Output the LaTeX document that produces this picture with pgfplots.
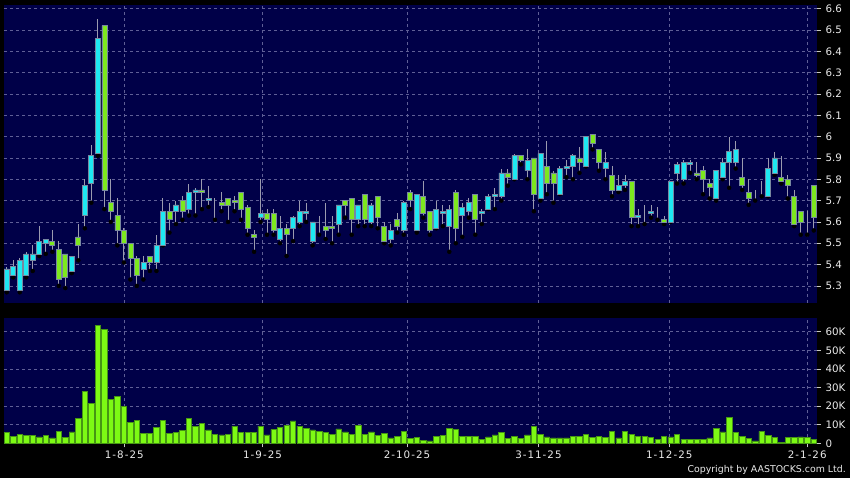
\documentclass[border=0pt]{standalone}
\usepackage{fontspec}
\setmainfont{DejaVu Sans}
\usepackage{pgfplots}
\usepackage{pgfplotstable}
\pgfplotsset{compat=1.18}

\definecolor{bgnavy}{RGB}{0,0,72}
\definecolor{upcol}{RGB}{30,232,242}
\definecolor{dncol}{RGB}{125,232,30}
\definecolor{edgecol}{RGB}{120,135,160}
\definecolor{wickcol}{RGB}{155,155,175}
\definecolor{volcol}{RGB}{125,250,20}
\definecolor{voledge}{RGB}{70,150,20}
\definecolor{gridcol}{RGB}{95,95,150}
\definecolor{txt}{RGB}{235,235,235}
\definecolor{tickcol}{RGB}{200,200,200}

\pgfplotstableread{
i o h l c v
0 5.28 5.39 5.27 5.38 5.9
1 5.35 5.42 5.34 5.39 3.6
2 5.28 5.43 5.27 5.42 5.0
3 5.35 5.46 5.34 5.45 4.1
4 5.42 5.49 5.37 5.45 4.1
5 5.45 5.58 5.44 5.51 3.4
6 5.50 5.52 5.45 5.52 4.1
7 5.51 5.56 5.46 5.49 2.9
8 5.47 5.51 5.30 5.33 6.4
9 5.45 5.45 5.29 5.34 3.0
10 5.37 5.44 5.36 5.44 6.1
11 5.53 5.59 5.42 5.49 13.4
12 5.63 5.80 5.57 5.77 27.9
13 5.78 5.96 5.69 5.91 21.6
14 5.92 6.55 5.91 6.46 63.5
15 6.52 6.52 5.66 5.75 61.4
16 5.69 5.80 5.60 5.65 23.8
17 5.63 5.71 5.49 5.56 25.4
18 5.56 5.57 5.41 5.50 19.9
19 5.50 5.50 5.33 5.43 11.3
20 5.43 5.44 5.30 5.35 12.3
21 5.38 5.44 5.33 5.41 5.4
22 5.44 5.44 5.37 5.41 5.4
23 5.41 5.54 5.37 5.49 8.6
24 5.49 5.71 5.49 5.65 12.3
25 5.65 5.69 5.55 5.61 5.4
26 5.65 5.70 5.59 5.68 5.7
27 5.70 5.72 5.61 5.65 7.0
28 5.66 5.78 5.63 5.74 13.6
29 5.74 5.76 5.63 5.75 8.9
30 5.75 5.80 5.66 5.74 10.7
31 5.70 5.77 5.67 5.71 7.2
32 5.67 5.71 5.61 5.67 5.0
33 5.69 5.74 5.65 5.68 4.5
34 5.71 5.71 5.60 5.68 4.8
35 5.70 5.72 5.65 5.69 9.3
36 5.74 5.74 5.61 5.66 5.7
37 5.67 5.68 5.54 5.57 5.7
38 5.54 5.56 5.46 5.53 5.7
39 5.62 5.80 5.60 5.64 9.3
40 5.64 5.66 5.54 5.61 4.5
41 5.64 5.66 5.54 5.56 7.5
42 5.52 5.63 5.50 5.57 8.6
43 5.57 5.59 5.44 5.54 9.7
44 5.57 5.63 5.51 5.62 12.0
45 5.60 5.70 5.58 5.65 9.3
46 5.64 5.69 5.60 5.65 7.9
47 5.51 5.60 5.49 5.60 7.2
48 5.59 5.63 5.54 5.59 6.4
49 5.58 5.69 5.52 5.56 5.7
50 5.58 5.63 5.50 5.57 5.0
51 5.59 5.68 5.54 5.68 7.7
52 5.70 5.70 5.62 5.68 6.1
53 5.71 5.71 5.54 5.61 4.8
54 5.61 5.68 5.58 5.68 9.8
55 5.73 5.73 5.58 5.61 5.0
56 5.60 5.69 5.58 5.68 6.1
57 5.72 5.72 5.57 5.62 4.3
58 5.58 5.60 5.50 5.51 5.4
59 5.52 5.59 5.49 5.56 2.9
60 5.61 5.64 5.55 5.58 3.8
61 5.56 5.70 5.54 5.69 6.4
62 5.74 5.75 5.66 5.70 2.7
63 5.56 5.73 5.55 5.73 3.0
64 5.72 5.79 5.62 5.64 1.4
65 5.65 5.65 5.54 5.56 1.3
66 5.57 5.70 5.57 5.66 3.9
67 5.64 5.68 5.58 5.65 4.3
68 5.58 5.68 5.46 5.66 8.1
69 5.74 5.75 5.50 5.57 7.5
70 5.63 5.69 5.53 5.67 3.9
71 5.65 5.71 5.62 5.69 3.9
72 5.73 5.73 5.54 5.61 3.9
73 5.64 5.66 5.59 5.65 2.3
74 5.66 5.73 5.66 5.72 3.4
75 5.72 5.76 5.66 5.73 4.5
76 5.72 5.85 5.70 5.83 5.9
77 5.83 5.85 5.77 5.81 2.7
78 5.80 5.92 5.80 5.91 3.9
79 5.91 5.91 5.87 5.89 2.7
80 5.84 5.94 5.80 5.89 4.5
81 5.90 5.90 5.65 5.73 9.1
82 5.71 5.92 5.70 5.92 5.0
83 5.86 5.98 5.73 5.78 3.4
84 5.83 5.84 5.69 5.78 2.9
85 5.73 5.86 5.73 5.85 2.9
86 5.85 5.89 5.81 5.86 2.9
87 5.86 5.92 5.80 5.91 3.9
88 5.90 5.95 5.83 5.88 3.6
89 5.86 6.00 5.86 6.00 4.7
90 6.01 6.01 5.94 5.97 3.0
91 5.94 5.94 5.84 5.88 3.9
92 5.85 5.93 5.80 5.88 3.2
93 5.82 5.86 5.72 5.75 6.3
94 5.75 5.82 5.74 5.77 2.9
95 5.77 5.82 5.75 5.79 6.6
96 5.79 5.79 5.58 5.62 5.0
97 5.62 5.66 5.58 5.63 3.6
98 5.66 5.68 5.59 5.66 3.9
99 5.64 5.68 5.62 5.65 3.2
100 5.66 5.67 5.61 5.66 2.1
101 5.61 5.63 5.59 5.60 3.9
102 5.60 5.79 5.60 5.79 3.4
103 5.83 5.88 5.78 5.87 5.0
104 5.80 5.89 5.78 5.88 2.3
105 5.87 5.89 5.83 5.88 2.0
106 5.83 5.88 5.80 5.82 2.0
107 5.84 5.86 5.73 5.80 2.3
108 5.78 5.80 5.71 5.76 2.9
109 5.71 5.84 5.70 5.84 7.9
110 5.81 5.90 5.80 5.88 6.1
111 5.88 6.00 5.76 5.93 14.0
112 5.88 5.98 5.85 5.94 5.7
113 5.81 5.90 5.75 5.77 3.6
114 5.74 5.80 5.68 5.71 2.7
115 5.70 5.75 5.70 5.70 1.3
116 5.72 5.79 5.72 5.72 6.4
117 5.72 5.90 5.72 5.85 4.1
118 5.83 5.93 5.82 5.90 3.0
119 5.81 5.91 5.78 5.79 0.5
120 5.80 5.82 5.71 5.77 3.0
121 5.72 5.75 5.58 5.59 3.0
122 5.65 5.65 5.54 5.60 3.4
123 5.61 5.65 5.54 5.61 3.0
124 5.77 5.77 5.56 5.62 2.3
}\px

\pgfplotsset{
  common/.style={
    scale only axis, width=813pt, xmin=-0.42, xmax=124.5,
    xtick={18.06,39.3,61.5,81.7,101.8,123.0},
    axis line style={draw=none},
    tick align=outside, major tick length=4pt,
    every tick/.style={draw=tickcol, line width=0.8pt},
    ytick pos=right, yticklabel pos=right, xtick pos=bottom,
    yticklabel style={font=\fontsize{10.3}{12}\selectfont, text=txt, anchor=west, xshift=1pt},
    xticklabel style={font=\fontsize{10.3}{12}\selectfont\addfontfeature{LetterSpace=10}, text=txt},
    grid=major,
    major grid style={draw=gridcol, dash pattern=on 3pt off 3pt, line width=0.6pt},
  },
  pricebox/.style={
    at={(4pt,175pt)}, anchor=south west, height=298pt,
    ymin=5.22, ymax=6.617,
  },
}

\begin{document}
\begin{tikzpicture}
\fill[black] (0,0) rectangle (850pt,478pt);

% price panel: background, grid, labels, wicks
\begin{axis}[common, pricebox,
  axis background/.style={fill=bgnavy},
  xticklabels={}, xtick style={draw=none},
  ytick={5.3,5.4,5.5,5.6,5.7,5.8,5.9,6.0,6.1,6.2,6.3,6.4,6.5,6.6},
  yticklabels={5.3,5.4,5.5,5.6,5.7,5.8,5.9,6,6.1,6.2,6.3,6.4,6.5,6.6},
]
\addplot[only marks, mark=none, error bars/.cd, y dir=plus, y explicit,
  error mark=none, error bar style={draw=wickcol, line width=1pt, solid}]
  table[x=i, y=l, y error expr=\thisrow{h}-\thisrow{l}] {\px};
\end{axis}

% price panel: candle bodies
\begin{axis}[common, pricebox, hide axis, grid=none, ybar stacked, bar width=5pt]
\addplot[fill=none, draw=none] table[x=i, y expr={min(\thisrow{o},\thisrow{c})}] {\px};
\addplot[fill=upcol, draw=edgecol, line width=0.7pt] table[x=i, y expr={max(\thisrow{c}-\thisrow{o},0)}] {\px};
\addplot[fill=dncol, draw=edgecol, line width=0.7pt] table[x=i, y expr={max(\thisrow{o}-\thisrow{c},0)}] {\px};
\end{axis}

% volume panel
\begin{axis}[common, at={(4pt,34.7pt)}, anchor=south west, height=125.3pt,
  ymin=0, ymax=67.4,
  axis background/.style={fill=bgnavy},
  ytick={0,10,20,30,40,50,60},
  yticklabels={0,10K,20K,30K,40K,50K,60K},
  xticklabels={1-8-25,1-9-25,2-10-25,3-11-25,1-12-25,2-1-26},
  ybar, bar width=5.4pt,
]
\addplot[fill=volcol, draw=voledge, line width=0.6pt] table[x=i, y=v] {\px};
\end{axis}

\node[anchor=east, text=txt, font=\fontsize{9.4}{11}\selectfont, inner sep=0pt] at (846pt,8pt) {Copyright by AASTOCKS.com Ltd.};

\pgfresetboundingbox
\useasboundingbox (0,0) rectangle (850pt,478pt);
\end{tikzpicture}
\end{document}
